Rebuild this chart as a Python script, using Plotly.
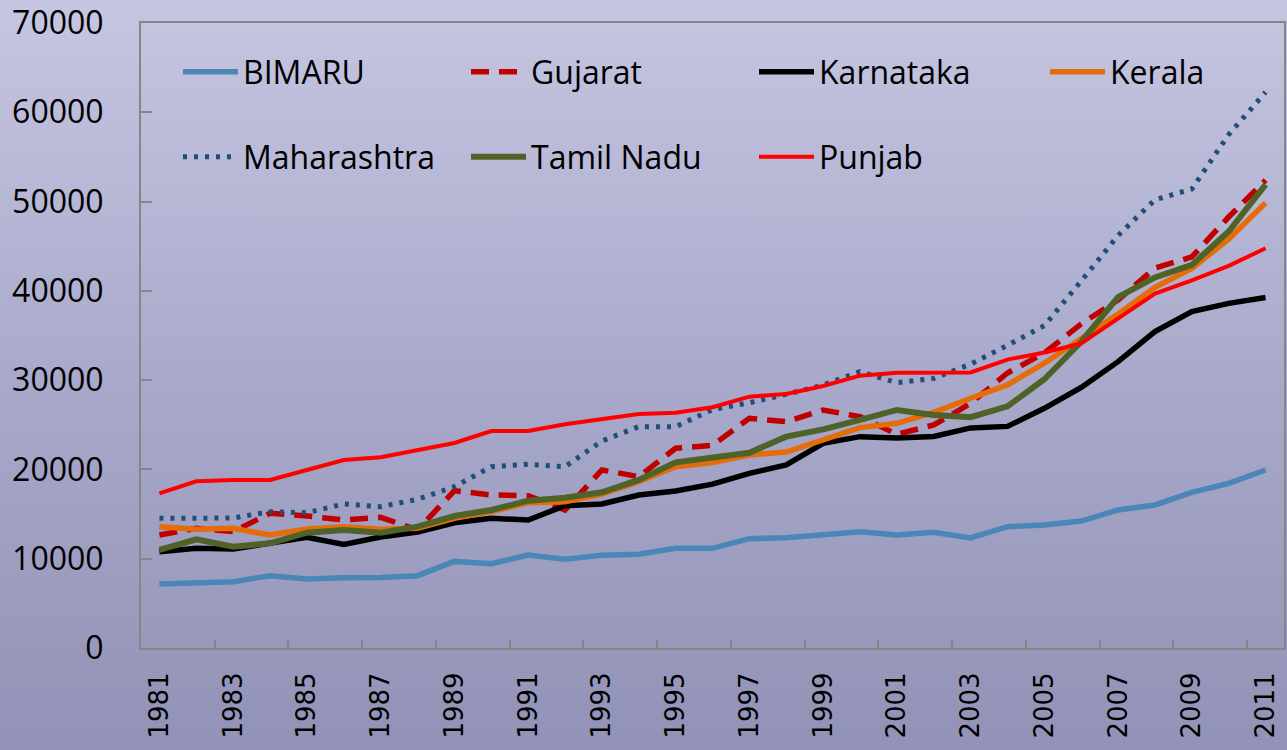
import base64
import plotly.graph_objects as go

years = [str(y) for y in range(1981, 2012)]

bimaru = [7170, 7300, 7430, 8100, 7730, 7870, 7900, 8100, 9700, 9450, 10400, 9950, 10400, 10500, 11160, 11160,
          12240, 12350, 12730, 13030, 12660, 12950, 12320, 13590, 13780, 14220, 15460, 16020, 17440, 18440, 19940]
gujarat = [12660, 13400, 13030, 15090, 14780, 14340, 14640, 13220, 17620, 17140, 17060, 15460, 19940, 19190, 22370, 22700,
           25730, 25350, 26660, 25900, 23930, 24980, 27400, 30800, 33040, 36300, 38980, 42560, 43800, 48270, 52400]
karnataka = [10790, 11160, 11090, 11800, 12400, 11610, 12430, 12990, 14030, 14520, 14340, 15940, 16130, 17140, 17580, 18350,
             19560, 20500, 22930, 23670, 23530, 23700, 24650, 24820, 26850, 29180, 32070, 35430, 37670, 38600, 39250]
kerala = [13590, 13290, 13400, 12660, 13330, 13590, 13290, 13400, 14520, 15270, 16280, 16390, 17250, 18630, 20310, 20780,
          21620, 21950, 23300, 24680, 25170, 26400, 27970, 29460, 31900, 34700, 37400, 40400, 42520, 45800, 49850]
maharashtra = [14520, 14520, 14560, 15270, 15150, 16130, 15830, 16650, 18070, 20310, 20570, 20310, 23180, 24790, 24790, 26700,
               27470, 28410, 29460, 30950, 29710, 30200, 31800, 33900, 36100, 41100, 46200, 50200, 51400, 57500, 62250]
tamil_nadu = [10980, 12170, 11350, 11720, 12920, 13220, 12920, 13590, 14780, 15460, 16500, 16830, 17440, 18820, 20800, 21340,
              21870, 23670, 24490, 25540, 26660, 26100, 25850, 27060, 30100, 34300, 39300, 41500, 42900, 46650, 51900]
punjab = [17320, 18670, 18820, 18820, 19940, 21060, 21360, 22180, 22960, 24300, 24300, 25050, 25650, 26210, 26350, 26960,
          28150, 28450, 29340, 30500, 30830, 30870, 30870, 32300, 33100, 34120, 36920, 39700, 41180, 42800, 44770]

series = [
    ("BIMARU", bimaru, "#4a86b6", 5.5, "solid", "legend"),
    ("Gujarat", gujarat, "#c00000", 5.5, "18px,10px", "legend"),
    ("Karnataka", karnataka, "#000000", 5.5, "solid", "legend"),
    ("Kerala", kerala, "#e46c0a", 5.5, "solid", "legend3"),
    ("Maharashtra", maharashtra, "#1f4e79", 5, "4px,7px", "legend2"),
    ("Tamil Nadu", tamil_nadu, "#4f6228", 6, "solid", "legend2"),
    ("Punjab", punjab, "#ff0000", 4, "solid", "legend2"),
]

fig = go.Figure()
for name, vals, color, w, dash, leg in series:
    fig.add_trace(go.Scatter(x=years, y=vals, name=name, mode="lines",
                             line=dict(color=color, width=w, dash=dash),
                             legend=leg))

svg = ('<svg xmlns="http://www.w3.org/2000/svg" width="1287" height="750">'
       '<defs><linearGradient id="g" x1="0" y1="0" x2="0" y2="1">'
       '<stop offset="0" stop-color="#c6c6e2"/>'
       '<stop offset="0.5" stop-color="#a9a9cb"/>'
       '<stop offset="1" stop-color="#9292b6"/>'
       '</linearGradient></defs>'
       '<rect width="1287" height="750" fill="url(#g)"/></svg>')
uri = "data:image/svg+xml;base64," + base64.b64encode(svg.encode()).decode()

W, H = 1287, 750
ml, mr, mt, mb = 141, 3, 23, 102
pw, ph = W - ml - mr, H - mt - mb

fig.add_layout_image(dict(source=uri, xref="paper", yref="paper",
                          x=-ml / pw, y=1 + mt / ph, sizex=W / pw, sizey=H / ph,
                          xanchor="left", yanchor="top", sizing="stretch", layer="below"))

legfont = dict(family="Open Sans", size=32, color="black")
common = dict(orientation="h", xanchor="left", yanchor="middle", entrywidth=218, entrywidthmode="pixels",
              itemwidth=55, font=legfont, bgcolor="rgba(0,0,0,0)", traceorder="normal")

fig.update_layout(
    width=W, height=H,
    margin=dict(l=ml, r=mr, t=mt, b=mb, autoexpand=False),
    paper_bgcolor="#aaaacb",
    plot_bgcolor="rgba(0,0,0,0)",
    showlegend=True,
    legend=dict(x=(178 - ml) / pw, y=(648 - 72) / ph, **common),
    legend3=dict(x=(1045 - ml) / pw, y=(648 - 72) / ph, **common),
    legend2=dict(x=(178 - ml) / pw, y=(648 - 157) / ph, **common),
    xaxis=dict(type="category", range=[-0.5, 30.5], dtick=2, tickson="boundaries",
               ticks="inside", ticklen=8, tickcolor="#868686", tickwidth=1.5,
               showline=True, linecolor="#868686", linewidth=2, mirror=True, automargin=False,
               showgrid=False, tickangle=-90, ticklabelstandoff=12,
               tickfont=dict(family="DejaVu Sans", size=26, color="black")),
    yaxis=dict(range=[0, 70000], dtick=10000, tickformat="d", ticks="inside", ticklen=11,
               tickcolor="#868686", tickwidth=1.5, automargin=False,
               showline=True, linecolor="#868686", linewidth=2, mirror=True,
               showgrid=False, zeroline=False, ticklabelstandoff=29,
               tickfont=dict(family="Open Sans", size=32, color="black")),
)

fig.write_html("out.html", config={"displayModeBar": False},
               post_script="document.body.style.margin='0';document.body.style.overflow='hidden';")
